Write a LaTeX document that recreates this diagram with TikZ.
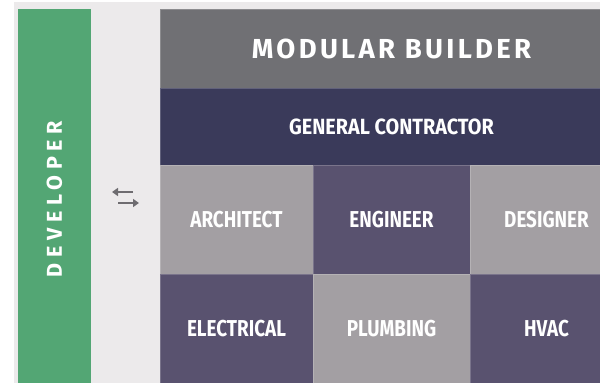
\documentclass[tikz,border=0pt]{standalone}
\usepackage{fontspec}
\usepackage{xcolor}
\usetikzlibrary{arrows.meta}
\setmainfont{Fira Sans}
\newfontfamily\tilefont{Fira Sans}[FakeStretch=0.82]
\newfontfamily\contractfont{Fira Sans}[FakeStretch=0.9]
\newfontfamily\spacedfont{Fira Sans}[LetterSpace=26]
\newfontfamily\titlefont{Fira Sans}[LetterSpace=12]
\definecolor{devgreen}{HTML}{53A674}
\definecolor{backgray}{HTML}{ECEAEB}
\definecolor{topgray}{HTML}{707074}
\definecolor{gcnavy}{HTML}{3A3A5A}
\definecolor{tilepurple}{HTML}{59526F}
\definecolor{tilegray}{HTML}{A39FA3}
\definecolor{arrowgray}{HTML}{6E6C70}

\begin{document}
\begin{tikzpicture}[%
      x=1pt, y=-1pt,
      tile/.style={inner sep=0pt, minimum height=109pt, text=white,
        draw=white, draw opacity=0.2, line width=0.6pt,
        font=\fontsize{23}{23}\tilefont\bfseries},
      band/.style={inner sep=0pt, minimum width=463pt, text=white,
        draw=white, draw opacity=0.2, line width=0.6pt},
      swaparrow/.style={color=arrowgray, line width=2.6pt,
        -{Triangle[length=6pt, width=8pt]}},
      ]
      \useasboundingbox (0,0) rectangle (600,383);
      \clip (0,0) rectangle (600,383);
      \fill [color=white] (0,0) rectangle (600,383);
      \fill [color=backgray] (14,2) rectangle (600,383);

      \node [fill=devgreen, rotate=90, inner sep=0pt, minimum width=380pt,
        minimum height=73pt, text=white,
        font=\fontsize{21.5}{22}\spacedfont\bfseries] (developer) at (54.5,199) {DEVELOPER};

      \node [band, fill=topgray, minimum height=79pt,
        font=\fontsize{27.5}{28}\titlefont\bfseries] (builder) at (391.5,48.5) {MODULAR BUILDER};
      \node [band, fill=gcnavy, minimum height=77pt,
        font=\fontsize{22}{22}\contractfont\bfseries] (contractor) at (391.5,126.5) {GENERAL CONTRACTOR};

      \node [tile, fill=tilegray, minimum width=153pt] (architect) at (236.5,219.5) {ARCHITECT};
      \node [tile, fill=tilepurple, minimum width=157pt] (engineer) at (391.5,219.5) {ENGINEER};
      \node [tile, fill=tilegray, minimum width=153pt] (designer) at (546.5,219.5) {DESIGNER};
      \node [tile, fill=tilepurple, minimum width=153pt] (electrical) at (236.5,328.5) {ELECTRICAL};
      \node [tile, fill=tilegray, minimum width=157pt] (plumbing) at (391.5,328.5) {PLUMBING};
      \node [tile, fill=tilepurple, minimum width=153pt] (hvac) at (546.5,328.5) {HVAC};

      \coordinate (swapa) at (133,192);
      \coordinate (swapb) at (112,192);
      \coordinate (swapc) at (118,203);
      \coordinate (swapd) at (139,203);
      \draw [swaparrow] (swapa) -- (swapb);
      \draw [swaparrow] (swapc) -- (swapd);
\end{tikzpicture}
\end{document}
